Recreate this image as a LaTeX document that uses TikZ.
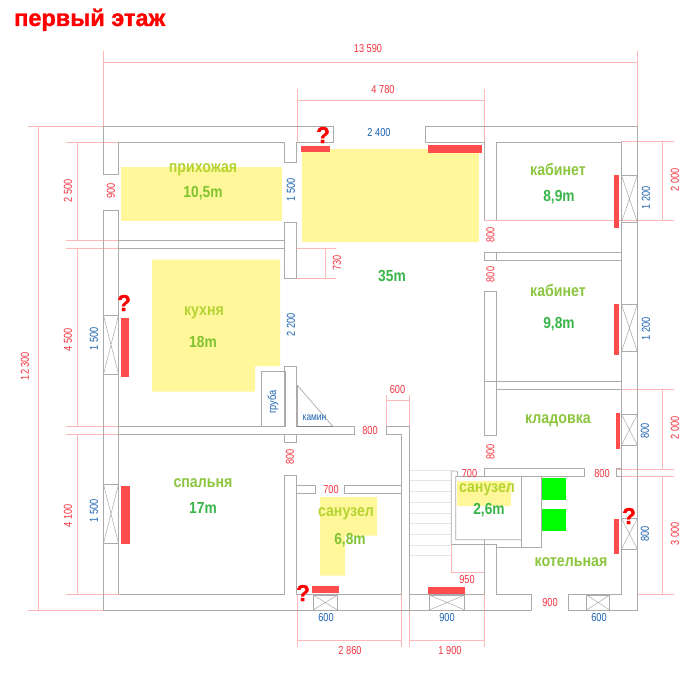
\documentclass[tikz,border=0pt]{standalone}
\usepackage{fontspec}
\setmainfont{Liberation Sans}
\newfontfamily\narrowfont[FakeStretch=0.86]{Liberation Sans}
\newfontfamily\dimfont[FakeStretch=0.8]{Liberation Sans}
\newfontfamily\heavyfont[FakeBold=1.2]{Liberation Sans}
\definecolor{wallc}{HTML}{ABABAB}
\definecolor{dimc}{HTML}{FFB8B8}
\definecolor{redtxt}{HTML}{F5333F}
\definecolor{bluetxt}{HTML}{1B62B0}
\definecolor{barc}{HTML}{FF4D4D}
\definecolor{yell}{HTML}{FFF799}
\definecolor{namec}{HTML}{8CC63F}
\definecolor{nameyc}{HTML}{B5D432}
\definecolor{areac}{HTML}{39B54A}
\definecolor{areayc}{HTML}{7FC42F}
\definecolor{stairc}{HTML}{E4E4E4}
\definecolor{crossc}{HTML}{B0A8A8}
\tikzset{
  wall/.style={draw=wallc,line width=0.8pt},
  thinwall/.style={draw=stairc,line width=0.8pt},
  dim/.style={draw=dimc,line width=0.7pt},
  bar/.style={fill=barc,draw=none},
  yfill/.style={fill=yell,draw=none},
  txt/.style={inner sep=0pt,outer sep=0pt},
  rd/.style={txt,text=redtxt,font=\dimfont\fontsize{11.5}{13}\selectfont},
  bl/.style={txt,text=bluetxt,font=\dimfont\fontsize{11.5}{13}\selectfont},
  room/.style={txt,text=namec,font=\narrowfont\fontsize{16.5}{18}\selectfont\bfseries},
  roomy/.style={txt,text=nameyc,font=\narrowfont\fontsize{16.5}{18}\selectfont\bfseries},
  area/.style={txt,text=areac,font=\narrowfont\fontsize{16}{18}\selectfont\bfseries},
  areay/.style={txt,text=areayc,font=\narrowfont\fontsize{16}{18}\selectfont\bfseries},
  quest/.style={inner sep=0pt,text=red,font=\heavyfont\fontsize{23}{25}\selectfont\bfseries},
  v/.style={rotate=90}
}
\newcommand\winh[4]{\draw[wall] (#1,#3) rectangle (#2,#4);
  \draw[crossc,line width=0.5pt] (#1,#3) -- (#2,#4) (#1,#4) -- (#2,#3);}
\begin{document}
\begin{tikzpicture}[x=1pt,y=-1pt]
\useasboundingbox (0,0) rectangle (700,700);
\fill[white] (0,0) rectangle (700,700);
% yellow zones
\fill[yfill] (121,167) rectangle (282,221);
\fill[yfill] (302,149) rectangle (479,241.7);
\fill[yfill] (152,259.5) -- (280,259.5) -- (280,366) -- (255,366) -- (255,391.7) -- (152,391.7) -- cycle;
\fill[yfill] (320,497) -- (377,497) -- (377,535.7) -- (345,535.7) -- (345,575.7) -- (320,575.7) -- cycle;
\fill[yfill] (457,481) rectangle (511,505.7);
% dimension lines
\draw[dim] (103.5,51) -- (103.5,126.5) (637.3,51) -- (637.3,126.5) (103.5,62.3) -- (637.3,62.3);
\draw[dim] (297,89) -- (297,142) (484.3,89) -- (484.3,142) (297,100.3) -- (484.3,100.3);
\draw[dim] (28,126.5) -- (103.5,126.5) (28,610) -- (103.5,610) (38.3,126.5) -- (38.3,610);
\draw[dim] (66,142) -- (118.5,142) (66,240.5) -- (118.5,240.5) (66,248) -- (118.5,248)
  (66,426.5) -- (118.5,426.5) (66,434.5) -- (118.5,434.5) (66,594.3) -- (118.5,594.3)
  (77.5,142) -- (77.5,240.5) (77.5,248) -- (77.5,426.5) (77.5,434.5) -- (77.5,594.3);
\draw[dim] (296.5,248) -- (336,248) (296.5,278) -- (336,278) (325.5,248) -- (325.5,278);
\draw[dim] (386.3,395) -- (386.3,426.5) (409.3,395) -- (409.3,426.5) (386.3,400.7) -- (409.3,400.7);
\draw[dim] (451.3,544.3) -- (451.3,572.3) -- (484.3,572.3);
\draw[dim] (297,594.3) -- (297,647) (401.7,594.3) -- (401.7,647) (409.3,610) -- (409.3,647)
  (484.3,544.3) -- (484.3,647) (297,640.3) -- (401.7,640.3) (409.3,640.3) -- (484.3,640.3);
\draw[dim] (484.3,220.3) -- (674,220.3) (621.3,141.3) -- (674,141.3) (662.3,141.3) -- (662.3,220.3);
\draw[dim] (621.3,389.3) -- (674,389.3) (616.7,469.3) -- (674,469.3) (616.7,476.7) -- (674,476.7)
  (637.3,594.3) -- (674,594.3) (662.3,389.3) -- (662.3,469.3) (662.3,476.7) -- (662.3,594.3);
% stairs
\foreach \yy in {470,480.7,491.3,502.3,513.3,523.7,534.3,545.3,555.7}
  \draw[thinwall] (409.7,\yy) -- (450.7,\yy);
% outer walls
\draw[wall] (118.5,142) -- (118.5,174) -- (103.5,174) -- (103.5,126.5) -- (333,126.5) -- (333,142) -- (296.5,142) -- (296.5,162.5) -- (284.5,162.5) -- (284.5,142) -- cycle;
\draw[wall] (484.3,220.3) -- (484.3,142) -- (425.3,142) -- (425.3,126.5) -- (637.3,126.5) -- (637.3,610) -- (568.3,610) -- (568.3,594.3) -- (621.3,594.3) -- (621.3,142) -- (496.5,142) -- (496.5,220.3);
\draw[wall] (118.5,594.3) -- (118.5,210) -- (103.5,210) -- (103.5,610) -- (531.7,610) -- (531.7,594.3) -- (496.5,594.3) -- (496.5,544.3);
\draw[wall] (118.5,594.3) -- (284.5,594.3) -- (284.5,475.5) -- (296.5,475.5) -- (296.5,594.3) -- (401.7,594.3) -- (401.7,434.5) -- (386.3,434.5) -- (386.3,426.5) -- (409.3,426.5) -- (409.3,610);
\draw[wall] (409.3,594.3) -- (484.3,594.3) -- (484.3,544.3);
% interior walls
\draw[wall] (118.5,240.5) -- (284.5,240.5) (118.5,248) -- (284.5,248);
\draw[wall] (284.5,248) -- (284.5,222.5) -- (296.5,222.5) -- (296.5,278) -- (284.5,278) -- (284.5,248);
\draw[wall] (118.5,426.5) -- (284.5,426.5) -- (284.5,366) -- (296.5,366) -- (296.5,426.5) -- (354.3,426.5) -- (354.3,434.5) -- (118.5,434.5);
\draw[wall] (284.5,434.5) -- (284.5,442.5) -- (296.5,442.5) -- (296.5,434.5);
\draw[wall] (296.5,485.3) -- (315.7,485.3) -- (315.7,493.3) -- (296.5,493.3);
\draw[wall] (401.7,485.3) -- (344,485.3) -- (344,493.3) -- (401.7,493.3);
% right interior
\draw[wall] (484.3,252.3) rectangle (496.5,260);
\draw[wall] (496.5,252.3) -- (621.3,252.3) (496.5,260) -- (621.3,260);
\draw[wall] (484.3,291.3) -- (496.5,291.3) -- (496.5,435.7) -- (484.3,435.7) -- cycle;
\draw[wall] (484.3,381.3) -- (621.3,381.3) (496.5,389.3) -- (621.3,389.3);
\draw[wall] (484.3,468.3) -- (584.3,468.3) -- (584.3,476.7) -- (484.3,476.7) -- cycle;
\draw[wall] (621.3,468.3) -- (616.7,468.3) -- (616.7,476.7) -- (621.3,476.7);
% small bathroom
\draw[wall] (451.3,544.3) -- (451.3,471) -- (457,471) -- (457.7,473) -- (457.7,476) -- (455.7,476.7) -- (455.7,539.7) -- (521.7,539.7);
\draw[wall] (455.7,476.7) -- (484.3,476.7);
\draw[wall] (451.3,544.3) -- (496.5,544.3);
\draw[wall] (484.3,539.7) -- (484.3,544.3);
\draw[wall] (496.5,547.3) -- (541.7,547.3) -- (541.7,476.7);
\draw[wall] (521.7,476.7) -- (521.7,547.3);
% flue and hearth
\draw[wall] (285,426.5) -- (261.3,426.5) -- (261.3,371.3) -- (285,371.3);
\draw[draw=wallc,line width=1.4pt] (285,371.3) -- (285,426.5) (297,385) -- (297,426.5);
\draw[crossc,line width=0.7pt] (297,385) -- (333,426.5);
\draw[draw=gray,line width=0.8pt] (297,426.5) -- (333,426.5);
% windows
\winh{103.5}{118.5}{315.3}{374.3}
\winh{103.5}{118.5}{484.3}{543.3}
\winh{621.5}{637.3}{175.3}{222.3}
\winh{621.5}{637.3}{304.3}{351.7}
\winh{621.5}{637.3}{414.3}{445.3}
\winh{621.5}{637.3}{518.3}{549.3}
\winh{313.3}{337.3}{595}{610}
\winh{429.3}{464.7}{595}{610}
\winh{586.7}{609.7}{595}{610}
% red bars
\fill[bar] (301,146) rectangle (330,151.7);
\fill[bar] (428,145) rectangle (482,153);
\fill[bar] (121,318) rectangle (129,377);
\fill[bar] (121,486) rectangle (130,543.7);
\fill[bar] (614,175) rectangle (619,228);
\fill[bar] (614,304) rectangle (619,355);
\fill[bar] (616,413) rectangle (620,449);
\fill[bar] (614,519) rectangle (619,553.7);
\fill[bar] (312,586) rectangle (339,593);
\fill[bar] (428,587) rectangle (465,594);
% boiler squares
\fill[green] (542,478) rectangle (566,500);
\fill[green] (542,509) rectangle (566,531);
% title
\node[inner sep=0pt,anchor=base west,text=red,font=\heavyfont\fontsize{23.5}{26}\selectfont\bfseries] (title) at (14,26) {первый этаж};
% question marks
\node[quest] (q1) at (323,135) {?};
\node[quest] (q2) at (124,303) {?};
\node[quest] (q3) at (303,593) {?};
\node[quest] (q4) at (629,516) {?};
% red dimensions
\node[rd] (d1) at (368,49) {13 590};
\node[rd] (d2) at (383,90) {4 780};
\node[rd,v] (d3) at (25,366) {12 300};
\node[rd,v] (d4) at (68,191) {2 500};
\node[rd,v] (d5) at (68,340) {4 500};
\node[rd,v] (d6) at (68,516) {4 100};
\node[rd,v] (d7) at (111,191) {900};
\node[rd,v] (d8) at (337,263) {730};
\node[rd,v] (d9) at (290,457) {800};
\node[rd] (d10) at (370,431) {800};
\node[rd] (d11) at (397.5,390) {600};
\node[rd] (d12) at (331,490) {700};
\node[rd] (d13) at (469.5,473.5) {700};
\node[rd,v] (d14) at (490.5,235) {800};
\node[rd,v] (d15) at (490.5,274.5) {800};
\node[rd,v] (d16) at (490.5,452) {800};
\node[rd] (d17) at (602,473.5) {800};
\node[rd] (d18) at (467,580) {950};
\node[rd] (d19) at (550,603) {900};
\node[rd] (d20) at (350,651) {2 860};
\node[rd] (d21) at (450,651) {1 900};
\node[rd,v] (d22) at (675,180) {2 000};
\node[rd,v] (d23) at (675,428) {2 000};
\node[rd,v] (d24) at (675,534) {3 000};
% blue dimensions
\node[bl] (b1) at (379,133) {2 400};
\node[bl,v] (b2) at (291,190) {1 500};
\node[bl,v] (b3) at (291,325) {2 200};
\node[bl,v] (b4) at (94,339) {1 500};
\node[bl,v] (b5) at (94,511) {1 500};
\node[bl,v] (b6) at (646,198) {1 200};
\node[bl,v] (b7) at (646,329) {1 200};
\node[bl,v] (b8) at (645,431) {800};
\node[bl,v] (b9) at (645,534) {800};
\node[bl] (b10) at (326,618) {600};
\node[bl] (b11) at (447,618) {900};
\node[bl] (b12) at (599,618) {600};
\node[bl,v] (b13) at (273,402) {груба};
\node[bl,font=\dimfont\fontsize{10.5}{12}\selectfont] (b14) at (314.5,418) {камин};
% rooms
\node[roomy] (r1) at (203,170) {прихожая};
\node[areay] (a1) at (203,193) {10,5m};
\node[roomy] (r2) at (204,313) {кухня};
\node[areay] (a2) at (203,342) {18m};
\node[room] (r3) at (558,170) {кабинет};
\node[area] (a3) at (559,197) {8,9m};
\node[area] (a4) at (392,276) {35m};
\node[room] (r4) at (558,291) {кабинет};
\node[area] (a5) at (559,324) {9,8m};
\node[room] (r5) at (203,483) {спальня};
\node[area] (a6) at (203,508) {17m};
\node[room] (r6) at (558,421) {кладовка};
\node[roomy] (r7) at (346,514) {санузел};
\node[areay] (a7) at (350,540) {6,8m};
\node[roomy] (r8) at (487,490) {санузел};
\node[area] (a8) at (489,510) {2,6m};
\node[room] (r9) at (571,562) {котельная};
\end{tikzpicture}
\end{document}
